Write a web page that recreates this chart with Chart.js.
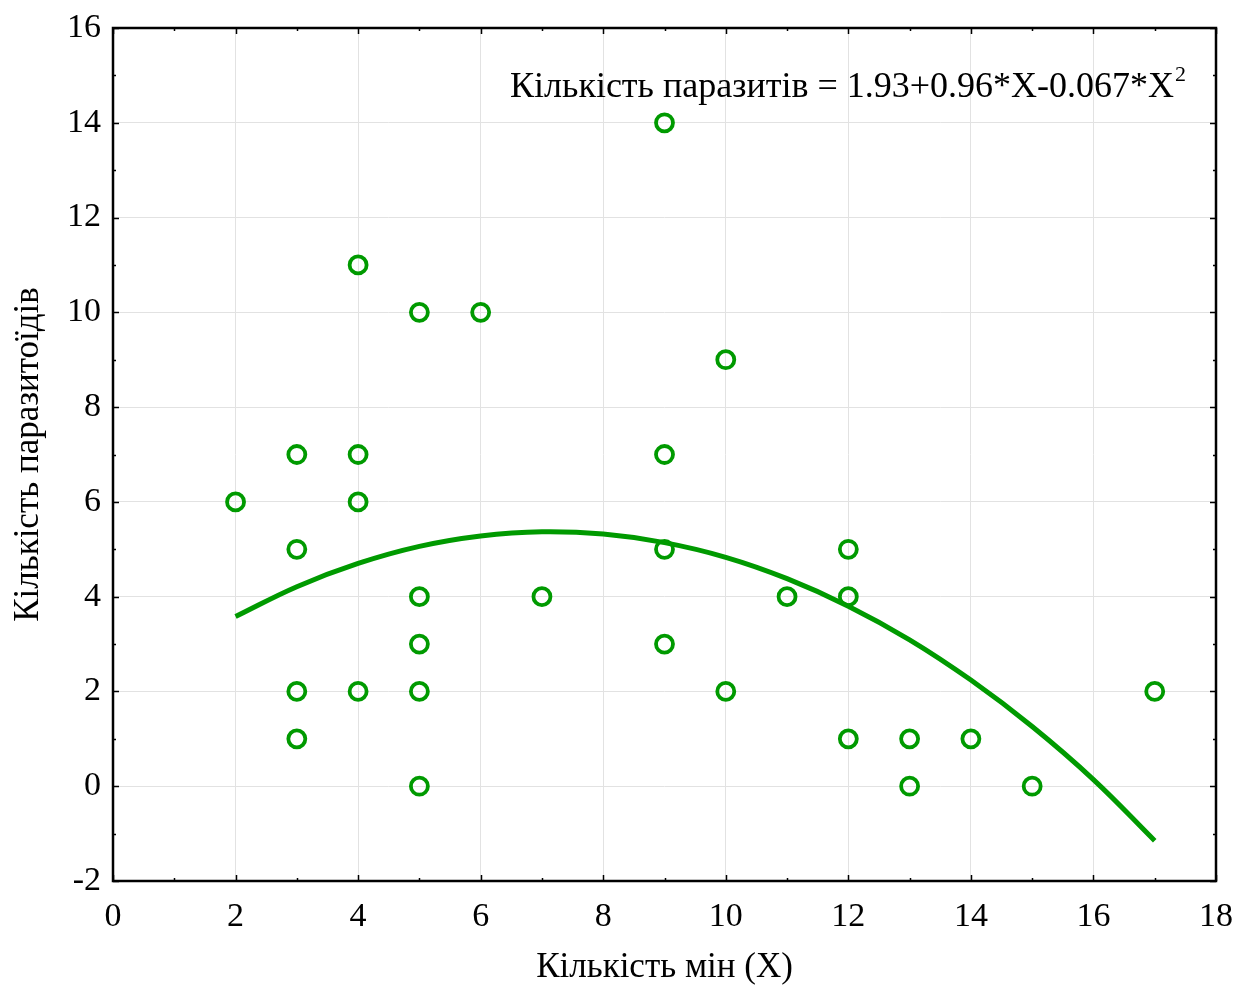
<!DOCTYPE html>
<html lang="uk">
<head>
    <meta charset="UTF-8">
    <title>Кількість паразитоїдів</title>
    <style>
        body { margin: 0; background: #fff; }
        #wrap { width: 1237px; height: 989px; }
    </style>
    <script src="https://cdn.jsdelivr.net/npm/chart.js"></script>
</head>
<body>
<div id="wrap"><canvas id="chart" width="1237" height="989"></canvas></div>
<script>
    // observed points
    const minX = [2, 3, 3, 3, 3, 4, 4, 4, 4, 5, 5, 5, 5, 5, 6, 7, 9, 9, 9, 9, 10, 10, 11, 12, 12, 12, 13, 13, 14, 15, 17];
    const parasitoids = [6, 7, 5, 2, 1, 11, 7, 6, 2, 10, 4, 3, 2, 0, 10, 4, 14, 7, 5, 3, 9, 2, 4, 5, 4, 1, 1, 0, 1, 0, 2];

    // fitted curve
    const fitX = [2, 3, 4, 5, 6, 7, 8, 9, 10, 11, 12, 13, 14, 15, 16, 17];
    const fitY = [3.58, 4.21, 4.70, 5.06, 5.28, 5.37, 5.32, 5.14, 4.83, 4.38, 3.80, 3.09, 2.24, 1.26, 0.14, -1.15];

    const xTicks = [0, 2, 4, 6, 8, 10, 12, 14, 16, 18];
    const yTicks = [-2, 0, 2, 4, 6, 8, 10, 12, 14, 16];

    const green = '#009a00';
    const serif = '"Liberation Serif", "Times New Roman", serif';

    const pts = minX.map((x, i) => ({ x: x, y: parasitoids[i] }));
    const fit = fitX.map((x, i) => ({ x: x, y: fitY[i] }));

    // frame, inward ticks and the equation label
    const framePlugin = {
        id: 'frame',
        afterDraw(chart) {
            const { ctx, chartArea: a, scales } = chart;
            const xs = scales.x, ys = scales.y;
            ctx.save();
            ctx.strokeStyle = '#000';
            ctx.lineWidth = 1.5;
            ctx.beginPath();
            for (let v = 0; v <= 18; v++) {
                const len = v % 2 === 0 ? 6 : 3;
                const px = Math.round(xs.getPixelForValue(v)) + 0.5;
                ctx.moveTo(px, a.bottom); ctx.lineTo(px, a.bottom - len);
                ctx.moveTo(px, a.top); ctx.lineTo(px, a.top + len);
            }
            for (let v = -2; v <= 16; v++) {
                const len = v % 2 === 0 ? 6 : 3;
                const py = Math.round(ys.getPixelForValue(v)) + 0.5;
                ctx.moveTo(a.left, py); ctx.lineTo(a.left + len, py);
                ctx.moveTo(a.right, py); ctx.lineTo(a.right - len, py);
            }
            ctx.stroke();
            ctx.lineWidth = 2.5;
            ctx.strokeRect(a.left, a.top, a.right - a.left, a.bottom - a.top);

            // equation
            ctx.fillStyle = '#000';
            ctx.textBaseline = 'alphabetic';
            ctx.textAlign = 'left';
            ctx.font = '36px ' + serif;
            const eq = 'Кількість паразитів = 1.93+0.96*X-0.067*X';
            const x0 = 510, y0 = 97;
            ctx.fillText(eq, x0, y0);
            const w = ctx.measureText(eq).width;
            ctx.font = '22px ' + serif;
            ctx.fillText('2', x0 + w + 1, y0 - 16);
            ctx.restore();
        }
    };

    new Chart(document.getElementById('chart'), {
        type: 'scatter',
        data: {
            datasets: [
                {
                    label: 'fit',
                    type: 'line',
                    data: fit,
                    borderColor: green,
                    borderWidth: 5,
                    pointRadius: 0,
                    fill: false,
                    tension: 0.4
                },
                {
                    label: 'points',
                    data: pts,
                    showLine: false,
                    pointStyle: 'circle',
                    pointRadius: 8.5,
                    pointBorderWidth: 3.8,
                    borderColor: green,
                    backgroundColor: 'rgba(255,255,255,0)',
                    pointHoverRadius: 8.5
                }
            ]
        },
        options: {
            responsive: false,
            animation: false,
            layout: { padding: { left: 0, right: 21, top: 28, bottom: 0 } },
            plugins: {
                legend: { display: false },
                tooltip: { enabled: false }
            },
            scales: {
                x: {
                    type: 'linear',
                    min: 0,
                    max: 18,
                    afterBuildTicks(scale) { scale.ticks = xTicks.map(v => ({ value: v })); },
                    afterFit(scale) {
                        scale.height = 108;
                        scale.paddingLeft = 0;
                        scale.paddingRight = 0;
                    },
                    grid: { color: '#e2e2e2', lineWidth: 1, drawTicks: false },
                    border: { display: false },
                    ticks: { color: '#000', padding: 16, font: { family: serif, size: 34 } },
                    title: {
                        display: true,
                        text: 'Кількість мін (X)',
                        color: '#000',
                        padding: { top: 15, bottom: 0 },
                        font: { family: serif, size: 35 }
                    }
                },
                y: {
                    type: 'linear',
                    min: -2,
                    max: 16,
                    afterBuildTicks(scale) { scale.ticks = yTicks.map(v => ({ value: v })); },
                    afterFit(scale) {
                        scale.width = 113;
                        scale.paddingTop = 0;
                        scale.paddingBottom = 0;
                    },
                    grid: { color: '#e2e2e2', lineWidth: 1, drawTicks: false },
                    border: { display: false },
                    ticks: { color: '#000', padding: 12, font: { family: serif, size: 34 } },
                    title: {
                        display: true,
                        text: 'Кількість паразитоїдів',
                        color: '#000',
                        padding: { top: 8, bottom: 6 },
                        font: { family: serif, size: 35 }
                    }
                }
            }
        },
        plugins: [framePlugin]
    });
</script>
</body>
</html>
